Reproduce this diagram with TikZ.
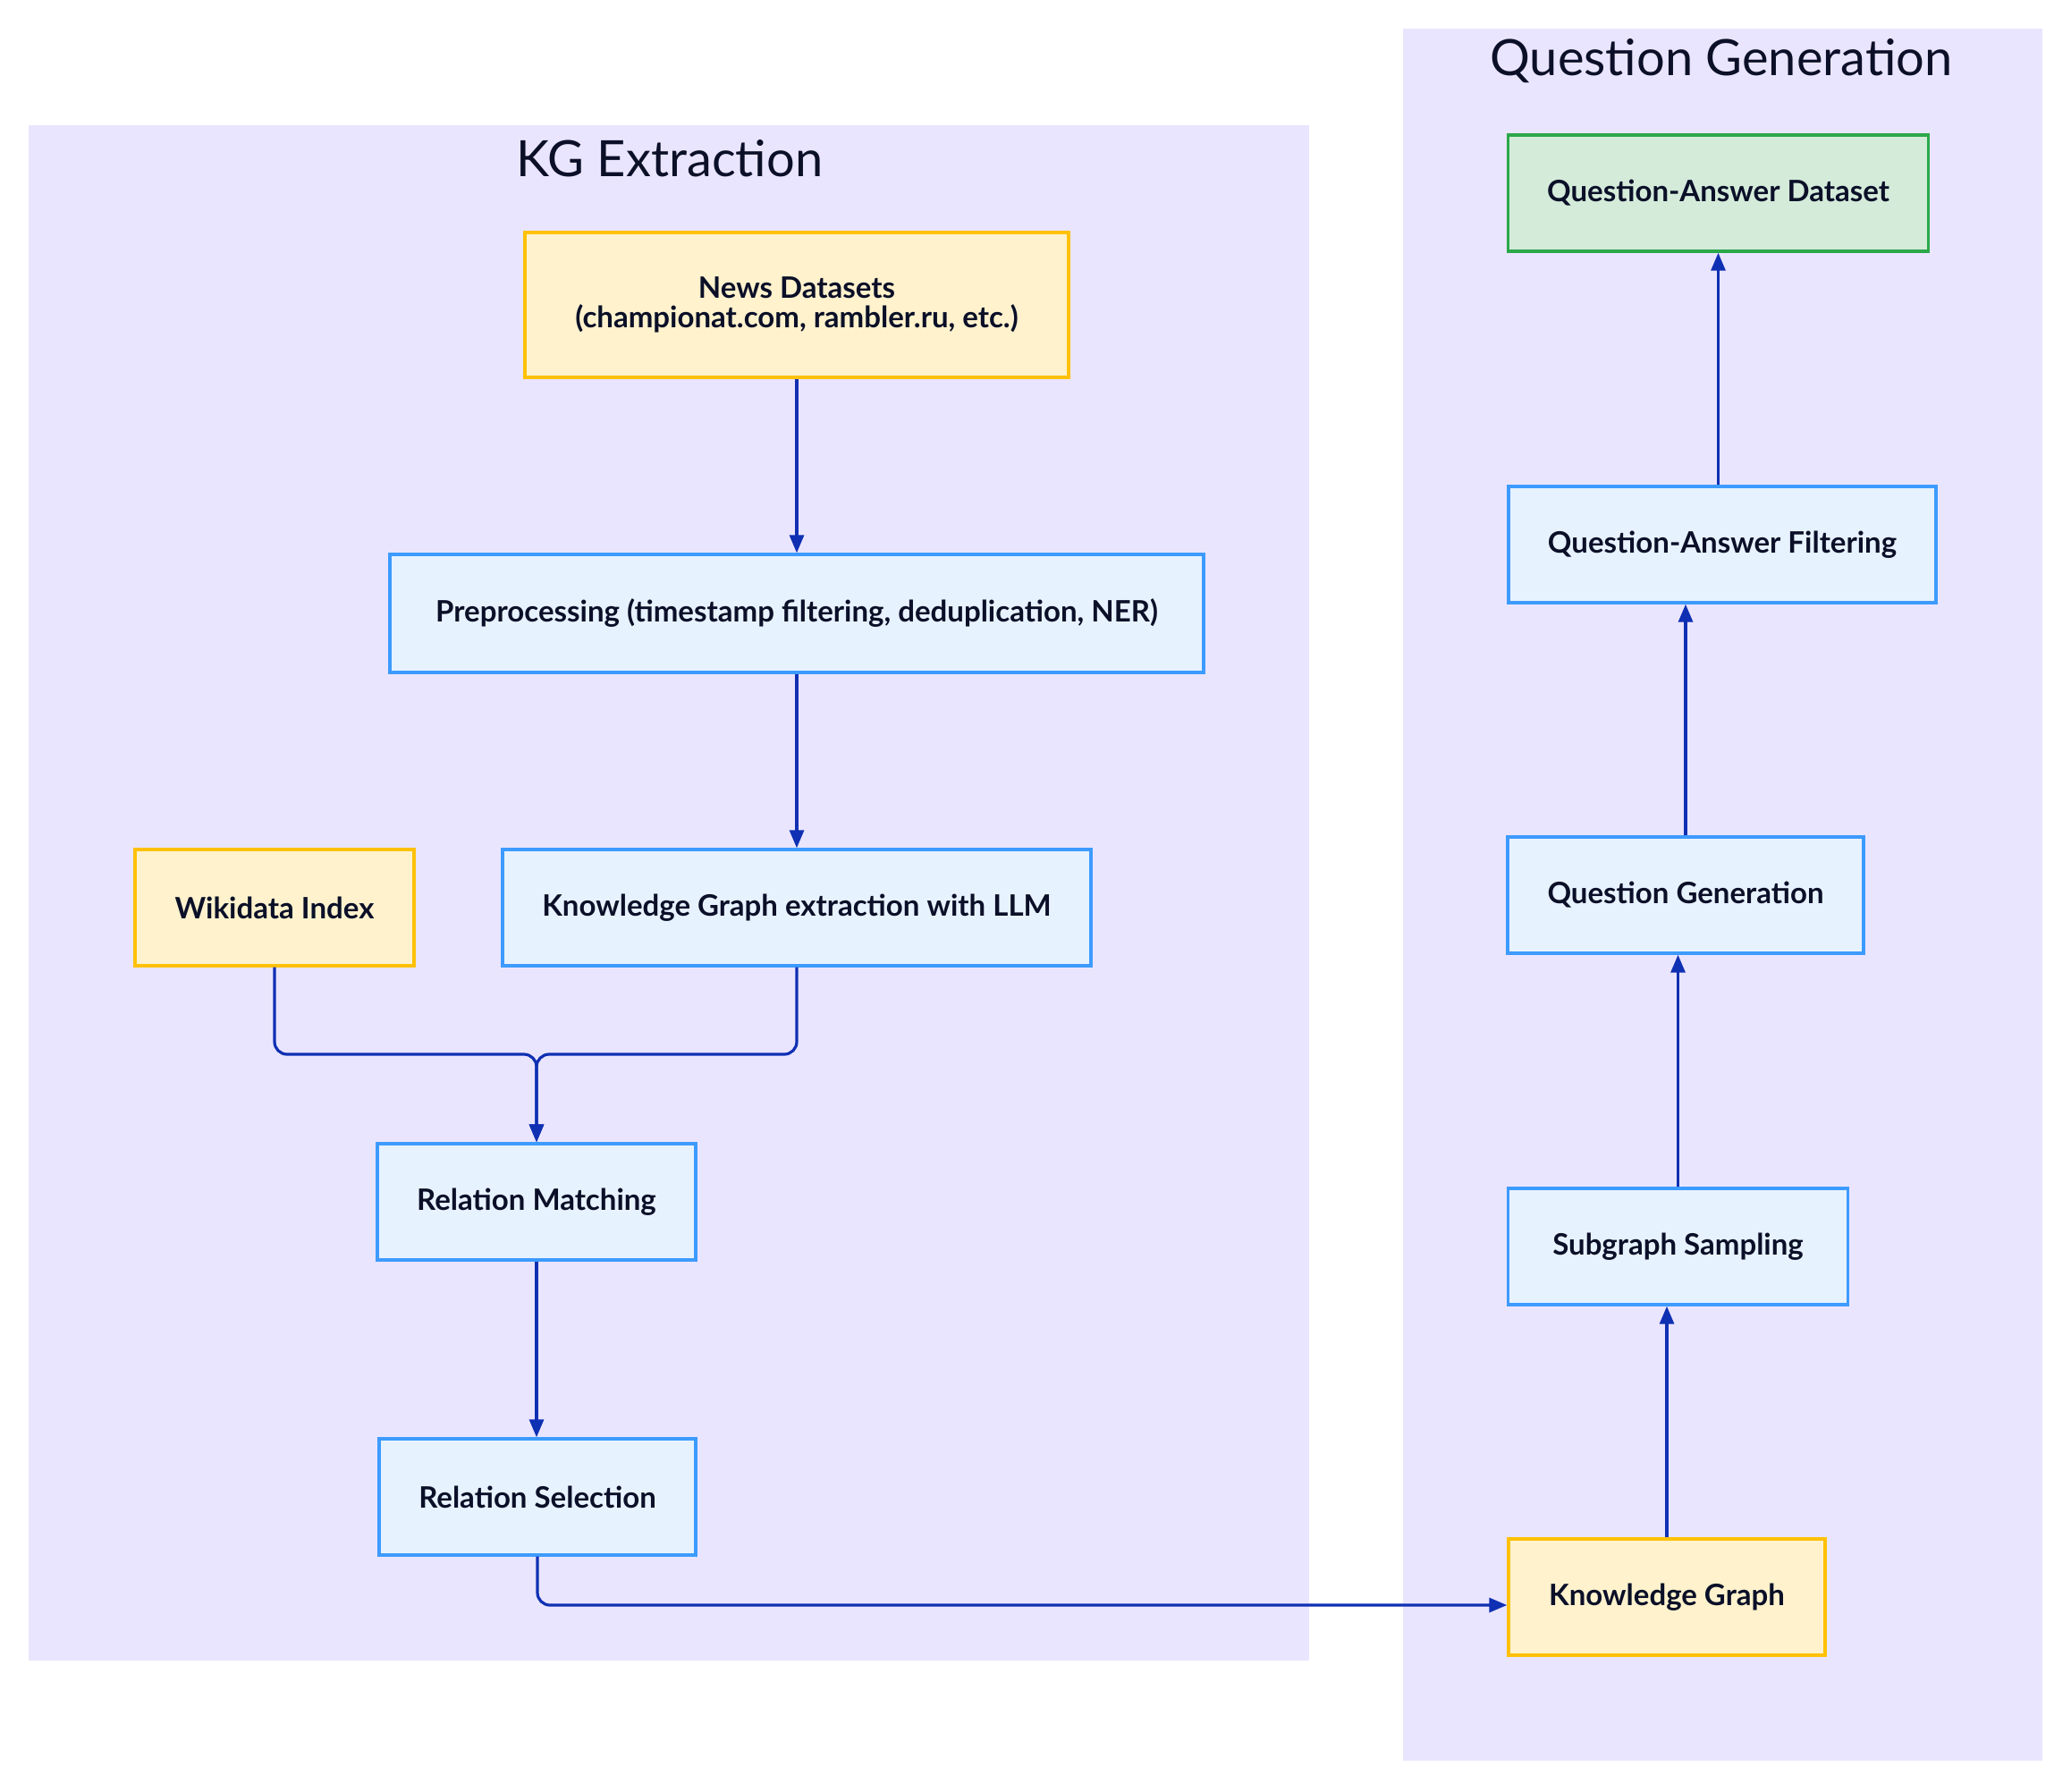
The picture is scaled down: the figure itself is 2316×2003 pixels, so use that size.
\documentclass[tikz,border=0pt]{standalone}
\usepackage{fontspec}
\setmainfont{Lato}
\usetikzlibrary{arrows.meta,calc}
\definecolor{clusterfill}{HTML}{EAE5FE}
\definecolor{bluefill}{HTML}{E7F2FF}
\definecolor{blueline}{HTML}{3D9BFF}
\definecolor{yelfill}{HTML}{FFF2CD}
\definecolor{yelline}{HTML}{FFC107}
\definecolor{grnfill}{HTML}{D4EBDA}
\definecolor{grnline}{HTML}{2BA84A}
\definecolor{edgecol}{HTML}{0F30B3}
\definecolor{txtcol}{HTML}{0B1028}
\tikzset{
  base/.style={rectangle, inner sep=0pt, line width=1.7pt, text=txtcol, align=center,
    font=\fontsize{16.5}{16.5}\selectfont\bfseries},
  bluebox/.style={base, draw=blueline, fill=bluefill},
  yelbox/.style={base, draw=yelline, fill=yelfill},
  grnbox/.style={base, draw=grnline, fill=grnfill},
  cluster/.style={fill=clusterfill, draw=none},
  ctitle/.style={text=txtcol, font=\fontsize{28}{32}\selectfont},
  conn/.style={draw=edgecol, line width=1.6pt, rounded corners=7pt,
    -{Triangle[length=10pt,width=8pt]}},
}
\begin{document}
\begin{tikzpicture}[x=0.5pt,y=-0.5pt]
\useasboundingbox[fill=white] (0,0) rectangle (2316,2003);
% clusters
\path[cluster] (32,140) rectangle (1464,1857);
\path[cluster] (1569,32) rectangle (2284,1969);
\node[ctitle] (t1) at (749,177) {KG Extraction};
\node[ctitle] (t2) at (1925,68) {Question Generation};
% left nodes
\node[yelbox, minimum width=304pt, minimum height=81pt] (news) at (891,341)
  {News Datasets\\(championat.com, rambler.ru, etc.)};
\node[bluebox, minimum width=455pt, minimum height=66pt] (pre) at (891,686)
  {Preprocessing (timestamp filtering, deduplication, NER)};
\node[yelbox, minimum width=156pt, minimum height=65pt] (wiki) at (307,1015)
  {Wikidata Index};
\node[bluebox, minimum width=329pt, minimum height=65pt] (kge) at (891,1015)
  {Knowledge Graph extraction with LLM};
\node[bluebox, minimum width=178pt, minimum height=65pt] (rm) at (600,1344)
  {Relation Matching};
\node[bluebox, minimum width=177pt, minimum height=65pt] (rs) at (601,1674)
  {Relation Selection};
% right nodes
\node[grnbox, minimum width=235pt, minimum height=65pt] (qad) at (1921.5,216)
  {Question-Answer Dataset};
\node[bluebox, minimum width=239pt, minimum height=65pt] (qaf) at (1926,609)
  {Question-Answer Filtering};
\node[bluebox, minimum width=199pt, minimum height=65pt] (qg) at (1885,1001)
  {Question Generation};
\node[bluebox, minimum width=190pt, minimum height=65pt] (ss) at (1876.5,1394)
  {Subgraph Sampling};
\node[yelbox, minimum width=177pt, minimum height=65pt] (kg) at (1864,1786)
  {Knowledge Graph};
% connectors
\coordinate (merge) at (600,1179);
\draw[conn] (news.south) -- (news.south |- pre.north);
\draw[conn] (pre.south) -- (pre.south |- kge.north);
\draw[conn] (wiki.south) |- (merge) -- (merge |- rm.north);
\draw[conn] (kge.south) |- (merge) -- (merge |- rm.north);
\draw[conn] (rm.south) -- (rm.south |- rs.north);
\coordinate (bend) at (601,1795);
\draw[conn] (rs.south) -- (bend) -- (bend -| kg.west);
\draw[conn] (kg.north) -- (kg.north |- ss.south);
\draw[conn] (ss.north) -- (ss.north |- qg.south);
\draw[conn] (qg.north) -- (qg.north |- qaf.south);
\draw[conn] (qaf.north -| qad.south) -- (qad.south);
\end{tikzpicture}
\end{document}
